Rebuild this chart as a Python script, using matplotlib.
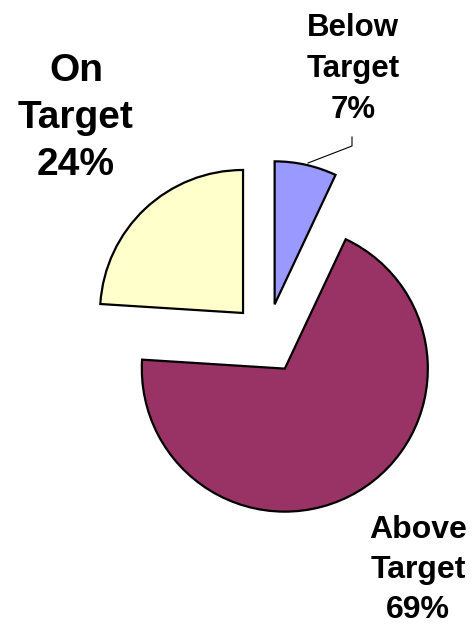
import matplotlib
matplotlib.use("Agg")
import matplotlib.pyplot as plt

# Data
categories = ["Below\nTarget", "Above\nTarget", "On\nTarget"]
values = [7, 69, 24]
colors = ["#9999FF", "#993366", "#FFFFCC"]

plt.rcParams['font.family'] = ['Liberation Sans', 'DejaVu Sans']

W, H = 472, 625
fig = plt.figure(figsize=(W / 100, H / 100), dpi=100)
ax = fig.add_axes([0, 0, 1, 1])

explode_px = 35
radius_px = 143
center = (267, H - 338.5)

wedges, _ = ax.pie(values, colors=colors, startangle=90, counterclock=False,
                   explode=[explode_px] * len(values), radius=radius_px,
                   center=center,
                   wedgeprops=dict(edgecolor="black", linewidth=1.6))

ax.set_xlim(0, W)
ax.set_ylim(0, H)
ax.set_aspect("equal")
ax.axis("off")

labels = [f"{c}\n{v}%" for c, v in zip(categories, values)]
# label positions (pixel coords, top-origin)
pos = [(353, 69), (418, 570), (76, 118)]
sizes = [22.5, 23, 28]
spacing = [1.5, 1.45, 1.38]
for lab, (x, y), s, ls in zip(labels, pos, sizes, spacing):
    ax.text(x, H - y, lab, ha="center", va="center", fontsize=s,
            fontweight="bold", linespacing=ls, color="black")

# leader line for Below Target
ax.plot([308, 352, 352], [H - 163, H - 146, H - 137], color="black", lw=0.8)

fig.savefig("out.png", dpi=100)
